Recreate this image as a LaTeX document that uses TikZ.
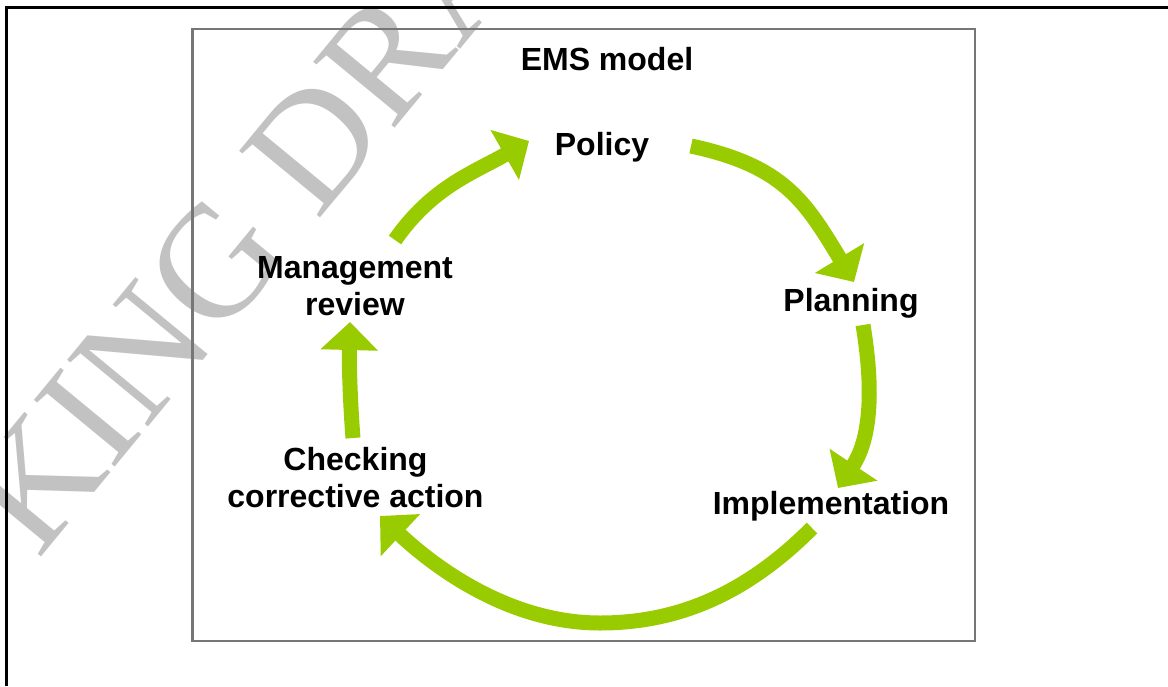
\documentclass[tikz,border=0pt]{standalone}
\usepackage{fontspec}
\setmainfont{Liberation Sans}
\newfontfamily\wmfont{Liberation Serif}
\usetikzlibrary{arrows.meta}
\definecolor{arrowgreen}{RGB}{153,204,0}
\definecolor{boxgray}{RGB}{118,118,118}
\definecolor{wmgray}{RGB}{194,194,194}
\tikzset{
  lbl/.style={font=\fontsize{32}{36.5}\selectfont\bfseries, text=black, inner sep=0pt, align=center, anchor=base},
  cyc/.style={draw=arrowgreen, line width=15pt, -{Triangle[length=28pt,width=56pt]}},
  wmark/.style={font=\wmfont\fontsize{160}{160}\selectfont, text=wmgray, inner sep=0pt, anchor=base west, rotate=50.5},
  outerframe/.style={draw=black, line width=2.5pt},
  emsbox/.style={draw=boxgray, line width=2.8pt}
}
\begin{document}
\begin{tikzpicture}[x=1pt,y=-1pt]
\useasboundingbox (0,0) rectangle (1168,686);
\begin{scope}
  \clip (0,0) rectangle (1168,686);
  \node[wmark] (wm) at (38,561) {KING DRA};
\end{scope}
% frames
\draw[outerframe] (6.7,686) -- (6.7,7.3) -- (1168,7.3);
\draw[emsbox] (192.7,29) rectangle (975,641);
% labels
\node[lbl] (ems) at (607,70.5) {EMS model};
\node[lbl] (policy) at (602,155) {Policy};
\node[lbl] (planning) at (851,311.5) {Planning};
\node[lbl] (impl) at (831,514) {Implementation};
\node[lbl] (check) at (355.5,507) {Checking\\corrective action};
\node[lbl] (mgmt) at (355,315) {Management\\review};
% arrow end points
\coordinate (a1s) at (395,240);
\coordinate (a1e) at (529,141);
\coordinate (a2s) at (691,146);
\coordinate (a2e) at (854,282);
\coordinate (a3s) at (863,325);
\coordinate (a3e) at (838,488);
\coordinate (a4s) at (812,528);
\coordinate (a4m) at (600,623);
\coordinate (a4e) at (380,516);
\coordinate (a5s) at (353,438);
\coordinate (a5e) at (350,322);
% cycle arrows
\draw[cyc] (a1s) .. controls (432,187) and (473,173) .. (a1e);
\draw[cyc] (a2s) .. controls (784,166) and (805,201) .. (a2e);
\draw[cyc] (a3s) .. controls (873,385) and (872,437) .. (a3e);
\draw[cyc] (a4s) .. controls (752,588) and (685,623) .. (a4m) .. controls (515,623) and (442,574) .. (a4e);
\draw[cyc] (a5s) .. controls (350,400) and (349,360) .. (a5e);
\end{tikzpicture}
\end{document}
